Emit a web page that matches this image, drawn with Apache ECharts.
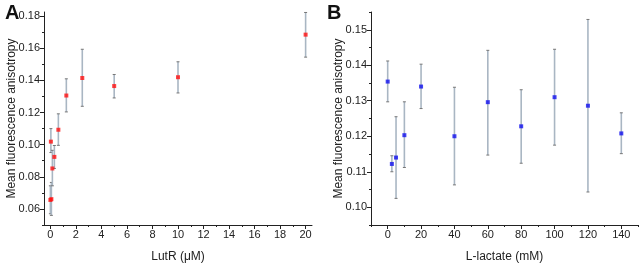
<!DOCTYPE html>
<html>
<head>
<meta charset="utf-8">
<script src="https://cdn.jsdelivr.net/npm/echarts@6/dist/echarts.min.js"></script>
<style>html,body{margin:0;padding:0;background:#fff;}#c{width:640px;height:268px;}</style>
</head>
<body>
<div id="c"></div>
<script>
// Panel A: LutR titration
const lutR = [0, 0.039, 0.078, 0.156, 0.3125, 0.625, 1.25, 2.5, 5, 10, 20];
const meanA = [0.0656, 0.1019, 0.0661, 0.0852, 0.0924, 0.1093, 0.1306, 0.1415, 0.1365, 0.1420, 0.1685];
const lowA  = [0.0570, 0.0951, 0.0560, 0.0744, 0.0852, 0.0996, 0.1204, 0.1239, 0.1291, 0.1322, 0.1545];
const highA = [0.0744, 0.1100, 0.0765, 0.0965, 0.0995, 0.1192, 0.1410, 0.1594, 0.1437, 0.1516, 0.1823];
const ticksAx = [0, 2, 4, 6, 8, 10, 12, 14, 16, 18, 20];
const minorAx = [1, 3, 5, 7, 9, 11, 13, 15, 17, 19];
const ticksAy = [0.06, 0.08, 0.10, 0.12, 0.14, 0.16, 0.18];
const minorAy = [0.05, 0.07, 0.09, 0.11, 0.13, 0.15, 0.17];

// Panel B: L-lactate
const lactate = [0, 2.5, 5, 10, 20, 40, 60, 80, 100, 120, 140];
const meanB = [0.1354, 0.1122, 0.1140, 0.1203, 0.1340, 0.1200, 0.1296, 0.1228, 0.1310, 0.1286, 0.1208];
const lowB  = [0.1297, 0.1100, 0.1025, 0.1112, 0.1278, 0.1063, 0.1147, 0.1124, 0.1175, 0.1043, 0.1151];
const highB = [0.1412, 0.1145, 0.1255, 0.1297, 0.1403, 0.1338, 0.1442, 0.1331, 0.1445, 0.1529, 0.1266];
const ticksBx = [0, 20, 40, 60, 80, 100, 120, 140];
const minorBx = [-10, 10, 30, 50, 70, 90, 110, 130, 150];
const ticksBy = [0.10, 0.11, 0.12, 0.13, 0.14, 0.15];
const minorBy = [0.095, 0.105, 0.115, 0.125, 0.135, 0.145, 0.155];

const FONT = 'Liberation Sans, Arial, sans-serif';
const chart = echarts.init(document.getElementById('c'), null, {renderer: 'canvas'});

function mainX(grid, min, max, ticks, name) {
  return {
    type: 'value', gridIndex: grid, min: min, max: max, position: 'bottom',
    name: name, nameLocation: 'middle', nameGap: 26, nameMoveOverlap: false,
    nameTextStyle: {fontFamily: FONT, fontSize: 12, color: '#222'},
    axisLine: {show: true, onZero: false, lineStyle: {color: '#222', width: 1}},
    axisTick: {show: true, inside: false, length: 4, customValues: ticks, lineStyle: {color: '#222'}},
    axisLabel: {show: true, customValues: ticks, margin: 4, fontFamily: FONT, fontSize: 11, color: '#222'},
    splitLine: {show: false}
  };
}
function minorX(grid, min, max, ticks) {
  return {
    type: 'value', gridIndex: grid, min: min, max: max, position: 'bottom',
    axisLine: {show: false, onZero: false},
    axisTick: {show: true, inside: false, length: 2, customValues: ticks, lineStyle: {color: '#222'}},
    axisLabel: {show: false}, splitLine: {show: false}
  };
}
function mainY(grid, min, max, ticks, gap) {
  return {
    type: 'value', gridIndex: grid, min: min, max: max, position: 'left',
    name: 'Mean fluorescence anisotropy', nameLocation: 'middle', nameGap: gap, nameMoveOverlap: false,
    nameTextStyle: {fontFamily: FONT, fontSize: 12, color: '#222'},
    axisLine: {show: true, onZero: false, lineStyle: {color: '#222', width: 1}},
    axisTick: {show: true, inside: false, length: 4, customValues: ticks, lineStyle: {color: '#222'}},
    axisLabel: {show: true, customValues: ticks, margin: 4, fontFamily: FONT, fontSize: 11, color: '#222',
      formatter: v => v.toFixed(2)},
    splitLine: {show: false}
  };
}
function minorY(grid, min, max, ticks) {
  return {
    type: 'value', gridIndex: grid, min: min, max: max, position: 'left',
    axisLine: {show: false, onZero: false},
    axisTick: {show: true, inside: false, length: 2, customValues: ticks, lineStyle: {color: '#222'}},
    axisLabel: {show: false}, splitLine: {show: false}
  };
}

function errRender(params, api) {
  const x = api.value(0), lo = api.value(1), hi = api.value(2);
  const p1 = api.coord([x, hi]), p2 = api.coord([x, lo]);
  const w = 1.5;
  return {type: 'group', children: [
    {type: 'line', shape: {x1: p1[0], y1: p1[1], x2: p2[0], y2: p2[1]}, style: {stroke: '#a9b6c3', lineWidth: 1.6}},
    {type: 'line', shape: {x1: p1[0] - w, y1: p1[1], x2: p1[0] + w, y2: p1[1]}, style: {stroke: '#777', lineWidth: 1}},
    {type: 'line', shape: {x1: p2[0] - w, y1: p2[1], x2: p2[0] + w, y2: p2[1]}, style: {stroke: '#777', lineWidth: 1}}
  ]};
}

const option = {
  animation: false,
  backgroundColor: '#fff',
  title: [
    {text: 'A', left: 0, top: -2, textStyle: {fontFamily: FONT, fontSize: 20, fontWeight: 'bold', color: '#111'}},
    {text: 'B', left: 322, top: -2, textStyle: {fontFamily: FONT, fontSize: 20, fontWeight: 'bold', color: '#111'}}
  ],
  grid: [
    {left: 44, top: 12, width: 268, height: 214},
    {left: 371, top: 12, width: 267, height: 215}
  ],
  xAxis: [
    mainX(0, -0.5, 20.5, ticksAx, 'LutR (μM)'),
    mainX(1, -10, 150, ticksBx, 'L-lactate (mM)'),
    minorX(0, -0.5, 20.5, minorAx),
    minorX(1, -10, 150, minorBx)
  ],
  yAxis: [
    mainY(0, 0.05, 0.1826, ticksAy, 26),
    mainY(1, 0.095, 0.155, ticksBy, 26),
    minorY(0, 0.05, 0.1826, minorAy),
    minorY(1, 0.095, 0.155, minorBy)
  ],
  series: [
    {type: 'custom', xAxisIndex: 0, yAxisIndex: 0, renderItem: errRender, encode: {x: 0, y: [1, 2]},
      data: lutR.map((x, i) => [x, lowA[i], highA[i]]), z: 2},
    {type: 'scatter', xAxisIndex: 0, yAxisIndex: 0, symbol: 'rect', symbolSize: 4,
      itemStyle: {color: '#ff1010'}, data: lutR.map((x, i) => [x, meanA[i]]), z: 3},
    {type: 'custom', xAxisIndex: 1, yAxisIndex: 1, renderItem: errRender, encode: {x: 0, y: [1, 2]},
      data: lactate.map((x, i) => [x, lowB[i], highB[i]]), z: 2},
    {type: 'scatter', xAxisIndex: 1, yAxisIndex: 1, symbol: 'rect', symbolSize: 4,
      itemStyle: {color: '#1010ee'}, data: lactate.map((x, i) => [x, meanB[i]]), z: 3}
  ]
};
chart.setOption(option);
</script>
</body>
</html>
